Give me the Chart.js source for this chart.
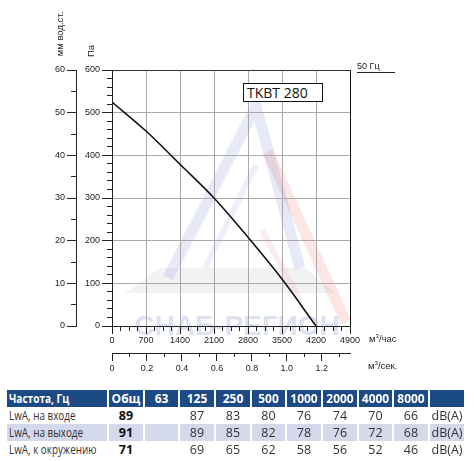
<!DOCTYPE html>
<html>
<head>
<meta charset="utf-8">
<script src="https://cdn.jsdelivr.net/npm/chart.js@4/dist/chart.umd.min.js"></script>
<style>
  html, body { margin: 0; padding: 0; background: #fff; }
  #wrap { position: relative; width: 474px; height: 461px; overflow: hidden; font-family: 'Liberation Sans', Arial, sans-serif; color: #222; }
  #wm { position: absolute; left: 0; top: 0; }
  #chart { position: absolute; left: 0; top: 0; }
  .lbl { position: absolute; font-size: 9.5px; white-space: nowrap; color: #222; }
  .rot { transform: translate(-50%, -50%) rotate(-90deg); }
  #model { position: absolute; left: 243px; top: 83px; border: 1px solid #111; background: #fff;
           font-family: 'Open Sans', sans-serif; font-size: 14px; line-height: 17px; padding-left: 3px; box-sizing: border-box; width: 80px; height: 19px; color: #111; }
  #hz { position: absolute; left: 357px; top: 61px; width: 38px; border-bottom: 1px solid #222; font-size: 9px; padding-bottom: 1px; }
  #noise { position: absolute; left: 5px; top: 390px; width: 461px; border-collapse: separate; border-spacing: 2px 0; table-layout: fixed;
           font-family: 'Open Sans', sans-serif; }
  #noise th { background: #1c4a85; color: #fff; font-weight: bold; font-size: 12px; height: 16px; padding: 0; text-align: center; white-space: nowrap; overflow: hidden; }
  #noise td { height: 17px; padding: 0; font-size: 12.5px; color: #333; text-align: center; white-space: nowrap; overflow: hidden; }
  #noise .first { text-align: left; padding-left: 2px; }
  #noise th.first span { display: inline-block; transform: scaleX(0.84); transform-origin: left center; }
  #noise td.first span { display: inline-block; transform: scaleX(0.79); transform-origin: left center; }
  #noise tr.alt td { background: #d3d8eb; }
  #noise td.tot { font-weight: bold; color: #111; }
</style>
</head>
<body>
<div id="wrap">
  <svg id="wm" width="474" height="380">
    <polygon points="125,293 335,293 305,268 160,268" fill="rgba(150,150,160,0.12)"/>
    <polyline points="168,278 256,106 300,268" fill="none" stroke="rgba(110,125,205,0.17)" stroke-width="11"/>
    <polyline points="205,268 256,165" fill="none" stroke="rgba(110,125,205,0.12)" stroke-width="6"/>
    <polyline points="268,152 346,322" fill="none" stroke="rgba(225,80,80,0.15)" stroke-width="11"/>
    <polyline points="262,230 300,300" fill="none" stroke="rgba(225,80,80,0.10)" stroke-width="6"/>
    <text x="237" y="335" text-anchor="middle" font-family="Liberation Sans, Arial" font-weight="bold" font-size="28" fill="rgba(100,120,210,0.22)">СНАБ-РЕГИОН</text>
  </svg>
  <canvas id="chart" width="474" height="380"></canvas>
  <div class="lbl rot" style="left:59px; top:34px;">мм вод.ст.</div>
  <div class="lbl rot" style="left:90px; top:51px;">Па</div>
  <div id="hz">50 Гц</div>
  <div class="lbl" style="left:369px; top:333px;">м<sup style="font-size:6px">3</sup>/час</div>
  <div class="lbl" style="left:368px; top:360px;">м<sup style="font-size:6px">3</sup>/сек.</div>
  <div id="model"></div>
  <table id="noise"></table>
</div>
<script>
// fan curve
const seriesName = 'TKBT 280';
const flow = [0, 700, 1400, 2100, 2800, 3500, 4200];      // м³/час
const pressure = [525, 457, 379, 300, 208, 110, 0];       // Па

// axes
const flowMax = 4900, flowStep = 700, flowMinor = 175;
const paMax = 600, paStep = 100, paMinor = 20;
const mmMax = 60, mmStep = 10, mmMinor = 5;
const secMax = flowMax / 3600, secStep = 0.2, secMinor = 0.1;

// noise table
const bands = ['Общ', '63', '125', '250', '500', '1000', '2000', '4000', '8000', ''];
const rowNames = ['LwA, на входе', 'LwA, на выходе', 'LwA, к окружению'];
const lwaIn = [89, null, 87, 83, 80, 76, 74, 70, 66];
const lwaOut = [91, null, 89, 85, 82, 78, 76, 72, 68];
const lwaEnv = [71, null, 69, 65, 62, 58, 56, 52, 46];
const colWidths = [100, 34, 33, 34, 34, 33, 34, 34, 33, 34, 34];

document.getElementById('model').textContent = seriesName;

const tbl = document.getElementById('noise');
tbl.innerHTML =
  '<colgroup>' + colWidths.map(w => `<col style="width:${w}px">`).join('') + '</colgroup>' +
  '<tr><th class="first"><span>Частота, Гц</span></th>' + bands.map(b => `<th>${b}</th>`).join('') + '</tr>' +
  [lwaIn, lwaOut, lwaEnv].map((row, r) => `
    <tr class="${r === 1 ? 'alt' : ''}">
      <td class="first"><span>${rowNames[r]}</span></td>
      ${row.map((v, i) => `<td class="${i === 0 ? 'tot' : ''}">${v === null ? '' : v}</td>`).join('')}
      <td>dB(A)</td>
    </tr>`).join('');

Chart.defaults.font.family = "'Liberation Sans', Arial, sans-serif";
Chart.defaults.font.size = 9;
Chart.defaults.color = '#222';

const fixSize = (prop, size) => (scale) => {
  scale[prop] = size;
  scale.paddingLeft = scale.paddingRight = scale.paddingTop = scale.paddingBottom = 0;
};
const plain = v => String(v);

// one scale for labelled ticks, one sitting on it for the short ones
const tickScale = (pos, max, step, opts) => Object.assign({
  type: 'linear', position: pos, min: 0, max: max,
  ticks: { stepSize: step, autoSkip: false, maxRotation: 0, includeBounds: false, padding: 2, callback: plain },
  grid: { drawOnChartArea: false, tickColor: '#222', tickLength: 8 },
  border: { display: false }
}, opts);

const minorScale = (pos, max, step, len, weight, prop) => ({
  type: 'linear', position: pos, min: 0, max: max, weight: weight,
  ticks: { stepSize: step, display: false, autoSkip: false, includeBounds: false },
  grid: { drawOnChartArea: false, tickColor: '#222', tickLength: len },
  border: { display: false },
  afterFit: fixSize(prop, 0)
});

new Chart(document.getElementById('chart'), {
  type: 'line',
  data: {
    datasets: [{
      label: seriesName,
      data: flow.map((q, i) => ({ x: q, y: pressure[i] })),
      borderColor: '#111',
      borderWidth: 1.6,
      pointRadius: 0,
      cubicInterpolationMode: 'monotone',
      xAxisID: 'x',
      yAxisID: 'y'
    }]
  },
  options: {
    responsive: false,
    animation: false,
    layout: { padding: { left: 0, top: 70, right: 124, bottom: 7 } },
    plugins: { legend: { display: false }, tooltip: { enabled: false } },
    scales: {
      xMinor: minorScale('bottom', flowMax, flowMinor, 5, 0, 'height'),
      x: tickScale('bottom', flowMax, flowStep, {
        weight: 1,
        ticks: { stepSize: flowStep, autoSkip: false, maxRotation: 0, includeBounds: false, padding: 1, callback: plain },
        grid: { color: '#a9a9a9', tickColor: '#222', tickLength: 8 },
        border: { display: true, color: '#222' },
        afterFit: fixSize('height', 27)
      }),
      secMinor: minorScale('bottom', secMax, secMinor, 4, 2, 'height'),
      sec: tickScale('bottom', secMax, secStep, {
        weight: 3,
        ticks: { stepSize: secStep, autoSkip: false, maxRotation: 0, includeBounds: false, padding: 2,
                 callback: v => v === 0 ? '0' : v.toFixed(1) },
        border: { display: true, color: '#222' },
        afterFit: fixSize('height', 20)
      }),
      yMinor: minorScale('left', paMax, paMinor, 5, 0, 'width'),
      y: tickScale('left', paMax, paStep, {
        weight: 1,
        ticks: { stepSize: paStep, autoSkip: false, includeBounds: false, padding: 2, callback: plain },
        grid: { color: '#a9a9a9', tickColor: '#222', tickLength: 10 },
        border: { display: true, color: '#222' },
        afterFit: fixSize('width', 36)
      }),
      mmMinor: minorScale('left', mmMax, mmMinor, 5, 2, 'width'),
      mm: tickScale('left', mmMax, mmStep, {
        weight: 3,
        ticks: { stepSize: mmStep, autoSkip: false, includeBounds: false, padding: 2, callback: plain },
        grid: { drawOnChartArea: false, tickColor: '#222', tickLength: 9 },
        border: { display: true, color: '#222' },
        afterFit: fixSize('width', 76)
      }),
      frameTop: {
        type: 'linear', position: 'top', min: 0, max: flowMax,
        ticks: { display: false }, grid: { drawOnChartArea: false, drawTicks: false },
        border: { display: true, color: '#333' }, afterFit: fixSize('height', 0)
      },
      frameRight: {
        type: 'linear', position: 'right', min: 0, max: paMax,
        ticks: { display: false }, grid: { drawOnChartArea: false, drawTicks: false },
        border: { display: true, color: '#111' }, afterFit: fixSize('width', 0)
      }
    }
  }
});
</script>
</body>
</html>
